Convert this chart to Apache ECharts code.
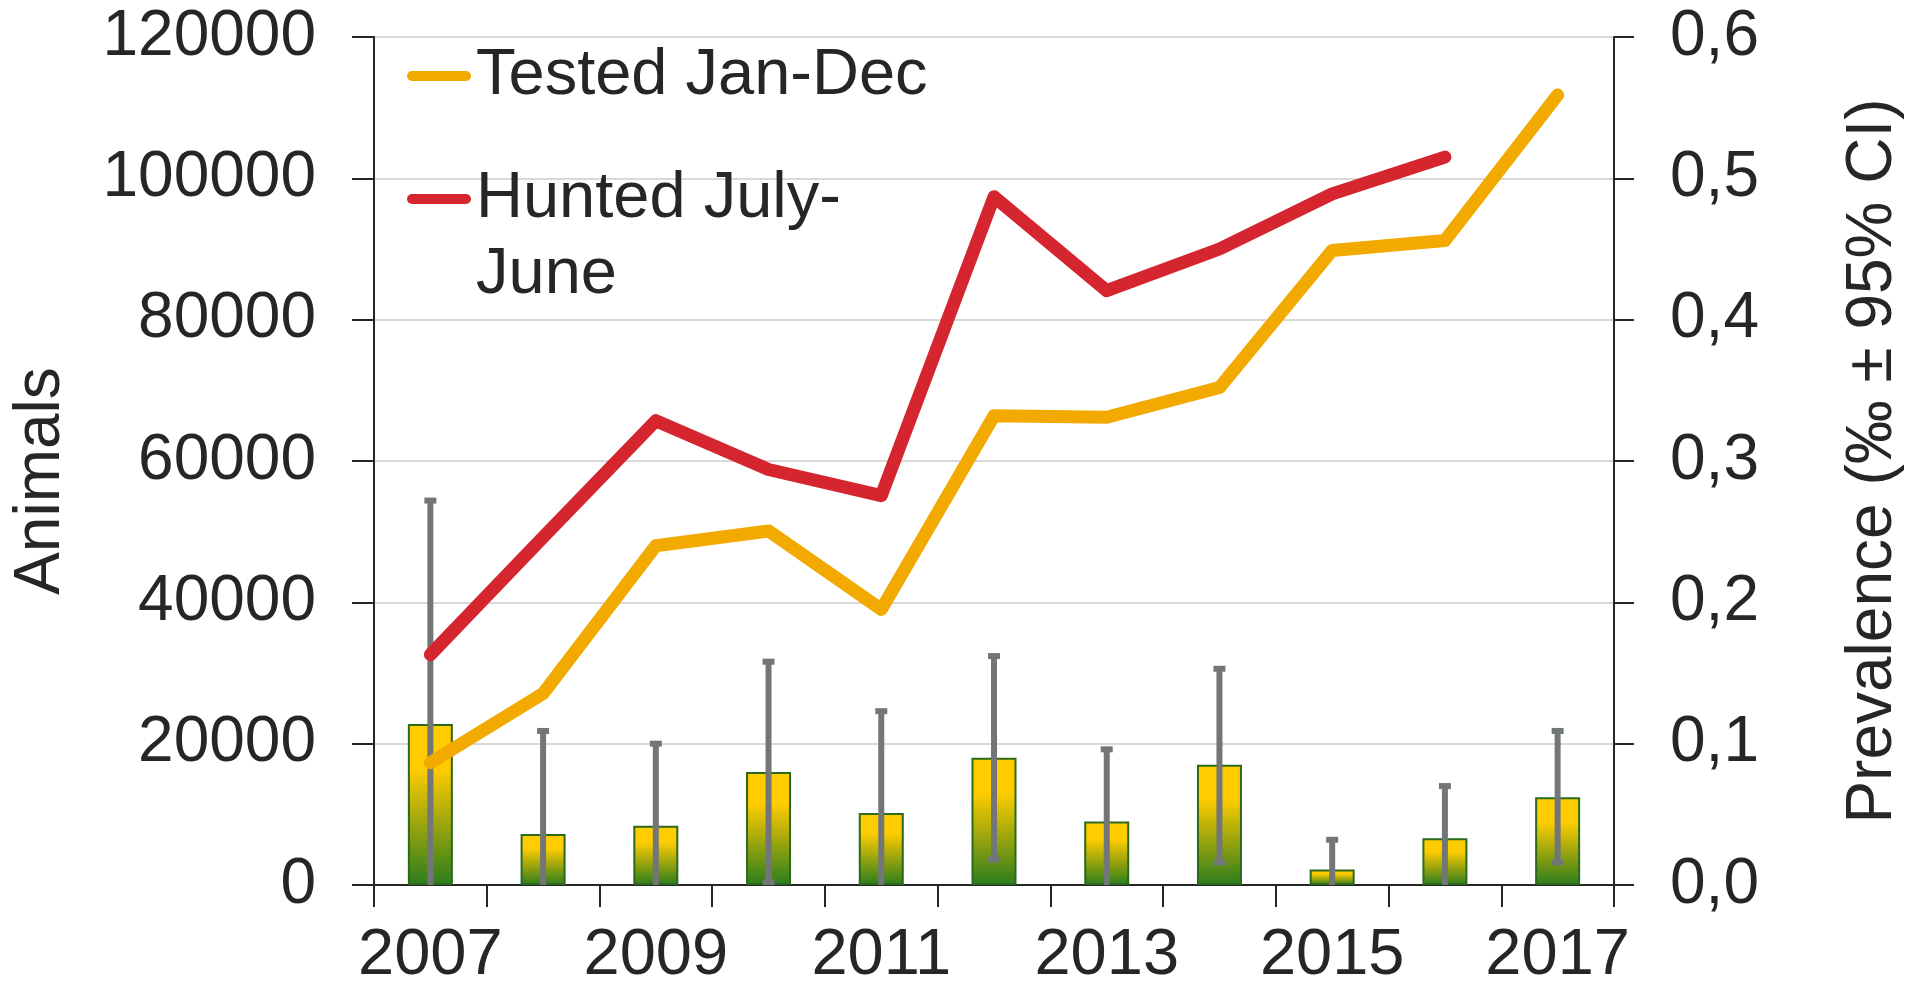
<!DOCTYPE html>
<html>
<head>
<meta charset="utf-8">
<title>Animals tested and hunted, prevalence</title>
<script src="https://cdn.jsdelivr.net/npm/echarts@6.0.0/dist/echarts.min.js"></script>
<style>
  html, body { margin: 0; padding: 0; background: #fff; }
  #chart-container { width: 1923px; height: 989px; }
</style>
</head>
<body>
<div id="chart-container"></div>
<script>
// Data
const years = ["2007", "2008", "2009", "2010", "2011", "2012", "2013", "2014", "2015", "2016", "2017"];
const tested = [17300, 27100, 48000, 50100, 39000, 66400, 66200, 70400, 89800, 91200, 111800];
const hunted = [32600, 49200, 65700, 58800, 55100, 97400, 84100, 90000, 97800, 103000, null];
const prevalence = [0.114, 0.036, 0.042, 0.080, 0.051, 0.090, 0.045, 0.085, 0.011, 0.033, 0.062];
const ciLow = [0, 0, 0, 0.002, 0, 0.018, 0, 0.016, 0, 0, 0.016];
const ciHigh = [0.272, 0.109, 0.100, 0.158, 0.123, 0.162, 0.096, 0.153, 0.032, 0.070, 0.109];
const leftTicks = [0, 20000, 40000, 60000, 80000, 100000, 120000];
const rightTicks = [0, 0.1, 0.2, 0.3, 0.4, 0.5, 0.6];

const textColor = "#262626";
const axisColor = "#262626";
const fontFamily = "'Liberation Sans', Arial, sans-serif";
const fontSize = 64;

const dom = document.getElementById("chart-container");
const myChart = echarts.init(dom, null, { renderer: "canvas" });

const barColor = new echarts.graphic.LinearGradient(0, 0, 0, 1, [
  { offset: 0, color: "#FFCC00" },
  { offset: 0.28, color: "#FFCC00" },
  { offset: 0.65, color: "#93A20F" },
  { offset: 1, color: "#2C7D1E" }
]);

const errorData = years.map((y, i) => [i, ciLow[i], ciHigh[i]]);

// capsule shaped legend icon, like a thick line with round ends
const capIcon = "path://M5,0 H59 A5,5 0 0 1 59,10 H5 A5,5 0 0 1 5,0 Z";

const option = {
  animation: false,
  backgroundColor: "#fff",
  grid: { left: 374, right: 309, top: 37, bottom: 103 },
  legend: [
    {
      data: ["Tested Jan-Dec"],
      orient: "vertical",
      left: 402,
      top: 33,
      icon: capIcon,
      itemWidth: 64,
      itemHeight: 13,
      textStyle: { color: textColor, fontSize: 65, fontFamily: fontFamily, lineHeight: 76 }
    },
    {
      data: ["Hunted July-\nJune"],
      orient: "vertical",
      left: 402,
      top: 80,
      icon: capIcon,
      itemWidth: 64,
      itemHeight: 13,
      // blank first line so the icon sits beside the first text line
      formatter: (name) => " \n" + name,
      textStyle: { color: textColor, fontSize: 65, fontFamily: fontFamily, lineHeight: 76 }
    }
  ],
  xAxis: {
    type: "category",
    data: years,
    boundaryGap: true,
    axisLine: { show: true, lineStyle: { color: axisColor, width: 2 } },
    axisTick: { show: true, interval: 0, length: 22, lineStyle: { color: axisColor, width: 2 } },
    axisLabel: { interval: 1, margin: 39, color: textColor, fontSize: 65, fontFamily: fontFamily },
    splitLine: { show: false }
  },
  yAxis: [
    {
      type: "value",
      name: "Animals",
      nameLocation: "middle",
      nameGap: 301,
      // right padding pushes the rotated name a little below the middle
      nameTextStyle: { color: textColor, fontSize: fontSize, fontFamily: fontFamily, padding: [0, 40, 0, 0] },
      min: leftTicks[0],
      max: leftTicks[leftTicks.length - 1],
      interval: leftTicks[1] - leftTicks[0],
      axisLine: { show: true, lineStyle: { color: axisColor, width: 2 } },
      axisTick: { show: true, length: 22, lineStyle: { color: axisColor, width: 2 } },
      axisLabel: { margin: 58, color: textColor, fontSize: fontSize, fontFamily: fontFamily, formatter: (v) => String(v) },
      splitLine: { show: true, lineStyle: { color: "#d9d9d9", width: 2 } }
    },
    {
      type: "value",
      position: "right",
      name: "Prevalence (‰ ± 95% CI)",
      nameLocation: "middle",
      nameGap: 227,
      nameTextStyle: { color: textColor, fontSize: fontSize, fontFamily: fontFamily },
      min: rightTicks[0],
      max: rightTicks[rightTicks.length - 1],
      interval: 0.1,
      axisLine: { show: true, lineStyle: { color: axisColor, width: 2 } },
      axisTick: { show: true, length: 20, lineStyle: { color: axisColor, width: 2 } },
      axisLabel: {
        margin: 56,
        color: textColor,
        fontSize: fontSize,
        fontFamily: fontFamily,
        formatter: (v) => v.toFixed(1).replace(".", ",")
      },
      splitLine: { show: false }
    }
  ],
  series: [
    {
      name: "Prevalence",
      type: "bar",
      yAxisIndex: 1,
      data: prevalence,
      barWidth: 45,
      itemStyle: { color: barColor, borderColor: "#2B6A1B", borderWidth: 2 },
      z: 2
    },
    {
      name: "CI",
      type: "custom",
      yAxisIndex: 1,
      data: errorData,
      z: 3,
      renderItem: function (params, api) {
        const x = api.value(0);
        const lo = api.coord([x, api.value(1)]);
        const hi = api.coord([x, api.value(2)]);
        const style = { fill: "#737677" };
        const children = [
          { type: "rect", shape: { x: hi[0] - 3, y: hi[1], width: 6, height: lo[1] - hi[1] }, style: style },
          { type: "rect", shape: { x: hi[0] - 6, y: hi[1] - 3, width: 12, height: 6 }, style: style }
        ];
        if (api.value(1) > 0) {
          children.push({ type: "rect", shape: { x: lo[0] - 6, y: lo[1] - 3, width: 12, height: 6 }, style: style });
        }
        return { type: "group", children: children };
      }
    },
    {
      name: "Tested Jan-Dec",
      type: "line",
      data: tested,
      symbol: "none",
      color: "#F2AA00",
      lineStyle: { color: "#F2AA00", width: 13, cap: "round", join: "round" },
      z: 4
    },
    {
      name: "Hunted July-\nJune",
      type: "line",
      data: hunted,
      symbol: "none",
      color: "#D52630",
      lineStyle: { color: "#D52630", width: 13, cap: "round", join: "round" },
      z: 5
    }
  ]
};

myChart.setOption(option);
window.addEventListener("resize", myChart.resize);
</script>
</body>
</html>
